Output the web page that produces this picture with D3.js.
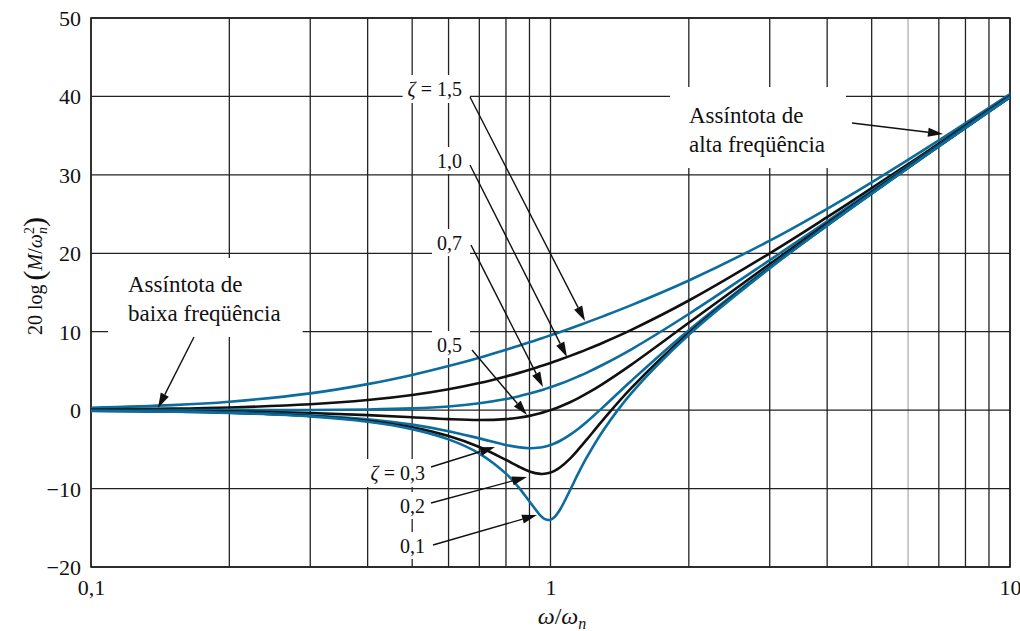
<!DOCTYPE html>
<html>
<head>
<meta charset="utf-8">
<script src="https://cdn.jsdelivr.net/npm/d3@7"></script>
<style>
  html, body { margin: 0; padding: 0; background: #fff; }
  svg { display: block; font-family: "Liberation Serif", "Times New Roman", serif; }
</style>
</head>
<body>
<svg id="chart" width="1020" height="631"></svg>
<script>
// Normalised frequency ω/ωn at which each curve is sampled
const omega = [0.1, 0.15, 0.2, 0.3, 0.4, 0.5, 0.6, 0.7, 0.8, 0.85, 0.9, 0.95, 0.97, 1, 1.02, 1.05, 1.1, 1.15, 1.2, 1.3, 1.5, 2, 3, 4, 5, 7, 10];

// 20 log(M/ωn²) in dB for each damping ratio ζ
const zeta01 = [-0.09, -0.19, -0.35, -0.80, -1.48, -2.42, -3.73, -5.53, -8.09, -9.75, -11.64, -13.41, -13.86, -13.98, -13.64, -12.63, -10.34, -8.04, -6.00, -2.65, 2.18, 9.62, 18.09, 23.53, 27.61, 33.63, 39.92];
const zeta02 = [-0.08, -0.18, -0.33, -0.74, -1.36, -2.20, -3.31, -4.70, -6.35, -7.15, -7.81, -8.13, -8.12, -7.96, -7.74, -7.28, -6.24, -5.01, -3.73, -1.27, 2.84, 9.84, 18.16, 23.57, 27.63, 33.64, 39.92];
const zeta03 = [-0.07, -0.16, -0.29, -0.65, -1.17, -1.85, -2.68, -3.60, -4.44, -4.72, -4.85, -4.76, -4.66, -4.44, -4.25, -3.90, -3.19, -2.37, -1.48, 0.35, 3.75, 10.19, 18.28, 23.63, 27.67, 33.66, 39.93];
const zeta05 = [-0.04, -0.10, -0.17, -0.37, -0.63, -0.90, -1.14, -1.25, -1.14, -0.97, -0.73, -0.40, -0.25, 0.00, 0.18, 0.47, 0.98, 1.54, 2.13, 3.36, 5.81, 11.14, 18.63, 23.82, 27.79, 33.72, 39.96];
const zeta07 = [0.00, 0.00, 0.00, 0.02, 0.08, 0.22, 0.47, 0.87, 1.41, 1.74, 2.11, 2.50, 2.67, 2.92, 3.10, 3.37, 3.83, 4.31, 4.79, 5.79, 7.76, 12.26, 19.12, 24.09, 27.96, 33.80, 40.00];
const zeta10 = [0.09, 0.19, 0.34, 0.75, 1.29, 1.94, 2.67, 3.46, 4.30, 4.72, 5.15, 5.59, 5.76, 6.02, 6.19, 6.45, 6.89, 7.32, 7.75, 8.60, 10.24, 13.98, 20.00, 24.61, 28.30, 33.98, 40.09];
const zeta15 = [0.29, 0.64, 1.08, 2.14, 3.32, 4.49, 5.62, 6.69, 7.70, 8.18, 8.65, 9.10, 9.28, 9.54, 9.72, 9.97, 10.39, 10.79, 11.19, 11.96, 13.39, 16.53, 21.61, 25.67, 29.04, 34.39, 40.29];

// Axis ticks
const yTicks = [-20, -10, 0, 10, 20, 30, 40, 50];
const yTickLabels = ["−20", "−10", "0", "10", "20", "30", "40", "50"];
const xLabelTicks = [0.1, 1, 10];
const xTickLabels = ["0,1", "1", "10"];

const BLUE = "#0b6c9e";
const INK = "#111";

const series = [
  { values: zeta15, color: BLUE },
  { values: zeta10, color: INK },
  { values: zeta07, color: BLUE },
  { values: zeta05, color: INK },
  { values: zeta03, color: BLUE },
  { values: zeta02, color: INK },
  { values: zeta01, color: BLUE }
];

const svg = d3.select("#chart");
const L = 91, R = 1010, T = 18, B = 567;

const x = d3.scaleLog().domain([0.1, 10]).range([L, R]);
const y = d3.scaleLinear().domain([-20, 50]).range([B, T]);

// ---- grid ----
const grid = svg.append("g");
grid.selectAll("line.v")
  .data(x.ticks())
  .join("line")
  .attr("x1", d => x(d)).attr("x2", d => x(d))
  .attr("y1", T).attr("y2", B)
  .attr("stroke", d => Math.abs(d - 6) < 1e-9 ? "#b0b0b0" : "#222")
  .attr("stroke-width", 1.3);
grid.selectAll("line.h")
  .data(yTicks)
  .join("line")
  .attr("x1", L).attr("x2", R)
  .attr("y1", d => y(d)).attr("y2", d => y(d))
  .attr("stroke", "#222")
  .attr("stroke-width", 1.3);
// frame
svg.append("rect")
  .attr("x", L).attr("y", T).attr("width", R - L).attr("height", B - T)
  .attr("fill", "none").attr("stroke", "#222").attr("stroke-width", 1.6);

// ---- axes labels ----
const yAxis = d3.axisLeft(y).tickValues(yTicks).tickSize(0).tickPadding(10)
  .tickFormat((d, i) => yTickLabels[i]);
const gy = svg.append("g").attr("transform", `translate(${L},0)`).call(yAxis);
gy.select(".domain").remove();
gy.selectAll("text").attr("font-size", 22).attr("fill", INK)
  .attr("font-family", "Liberation Serif").attr("dy", "0.34em");

const xAxis = d3.axisBottom(x).tickValues(xLabelTicks).tickSize(0).tickPadding(12)
  .tickFormat((d, i) => xTickLabels[i]);
const gx = svg.append("g").attr("transform", `translate(0,${B})`).call(xAxis);
gx.select(".domain").remove();
gx.selectAll("text").attr("font-size", 22).attr("fill", INK)
  .attr("font-family", "Liberation Serif");

// axis titles
svg.append("text")
  .attr("x", 562).attr("y", 624)
  .attr("text-anchor", "middle")
  .attr("font-size", 24).attr("fill", INK)
  .call(t => {
    t.append("tspan").attr("font-style", "italic").text("ω");
    t.append("tspan").text("/");
    t.append("tspan").attr("font-style", "italic").text("ω");
    t.append("tspan").attr("font-style", "italic").attr("font-size", 16).attr("dy", 5).text("n");
  });

svg.append("text")
  .attr("transform", "translate(42,276) rotate(-90)")
  .attr("text-anchor", "middle")
  .attr("font-size", 20).attr("fill", INK)
  .call(t => {
    t.append("tspan").text("20 log");
    t.append("tspan").attr("font-size", 30).attr("dx", 4).attr("dy", 2).text("(");
    t.append("tspan").attr("font-style", "italic").attr("dy", -2).text("M");
    t.append("tspan").text("/");
    t.append("tspan").attr("font-style", "italic").text("ω");
    t.append("tspan").attr("font-size", 14).attr("dy", -8).text("2");
    t.append("tspan").attr("font-style", "italic").attr("font-size", 14).attr("dx", -7).attr("dy", 13).text("n");
    t.append("tspan").attr("font-size", 30).attr("dy", -3).text(")");
  });

// ---- annotations: white boxes first so they cut the grid ----
const ann = svg.append("g");
function boxedText(lines, xPos, yBase, size, lineGap, anchor, pad) {
  const g = ann.append("g");
  const rect = g.append("rect").attr("fill", "#fff");
  const t = g.append("text").attr("font-size", size).attr("fill", INK)
    .attr("text-anchor", anchor);
  lines.forEach((ln, i) => {
    const ts = t.append("tspan").attr("x", xPos).attr("y", yBase + i * lineGap);
    if (Array.isArray(ln)) {
      ln.forEach(part => ts.append("tspan").attr("font-style", part.i ? "italic" : null).text(part.s));
    } else {
      ts.text(ln);
    }
  });
  const bb = t.node().getBBox();
  rect.attr("x", bb.x - pad.l).attr("y", bb.y - pad.t)
    .attr("width", bb.width + pad.l + pad.r).attr("height", bb.height + pad.t + pad.b);
  return g;
}

const zPad = { l: 5, r: 8, t: 3, b: 2 };
boxedText([[{ s: "ζ", i: true }, { s: " = 1,5" }]], 462, 96, 20, 0, "end", zPad);
boxedText(["1,0"], 462, 168, 20, 0, "end", zPad);
boxedText(["0,7"], 462, 250, 20, 0, "end", zPad);
boxedText(["0,5"], 462, 352, 20, 0, "end", zPad);
boxedText([[{ s: "ζ", i: true }, { s: " = 0,3" }]], 425, 480, 20, 0, "end", zPad);
boxedText(["0,2"], 425, 513, 20, 0, "end", zPad);
boxedText(["0,1"], 425, 553, 20, 0, "end", zPad);
boxedText(["Assíntota de", "alta freqüência"], 689, 123, 23, 29, "start", { l: 19, r: 21, t: 16, b: 11 });
boxedText(["Assíntota de", "baixa freqüência"], 128, 292, 23, 29, "start", { l: 20, r: 22, t: 14, b: 11 });

// ---- curves ----
const line = d3.line()
  .x((d, i) => x(omega[i]))
  .y(d => y(d))
  .curve(d3.curveCatmullRom.alpha(0.5));

svg.append("g").selectAll("path")
  .data(series)
  .join("path")
  .attr("d", d => line(d.values))
  .attr("fill", "none")
  .attr("stroke", d => d.color)
  .attr("stroke-width", 2.6)
  .attr("stroke-linejoin", "round");

// ---- arrows ----
const arrows = [
  [470, 97, 585, 321],
  [470, 165, 567, 357],
  [471, 245, 543, 387],
  [472, 350, 527, 415],
  [431, 467, 495, 447],
  [431, 503, 527, 477],
  [433, 545, 537, 515],
  [852, 123, 943, 134],
  [194, 337, 158, 408]
];
const ag = svg.append("g");
arrows.forEach(([x1, y1, x2, y2]) => {
  const a = Math.atan2(y2 - y1, x2 - x1);
  const len = 15, half = 4.5;
  const bx = x2 - len * Math.cos(a), by = y2 - len * Math.sin(a);
  ag.append("line")
    .attr("x1", x1).attr("y1", y1).attr("x2", bx).attr("y2", by)
    .attr("stroke", INK).attr("stroke-width", 1.4);
  const p1 = [bx + half * Math.sin(a), by - half * Math.cos(a)];
  const p2 = [bx - half * Math.sin(a), by + half * Math.cos(a)];
  ag.append("path")
    .attr("d", `M${x2},${y2}L${p1[0]},${p1[1]}L${p2[0]},${p2[1]}Z`)
    .attr("fill", INK);
});
</script>
</body>
</html>
